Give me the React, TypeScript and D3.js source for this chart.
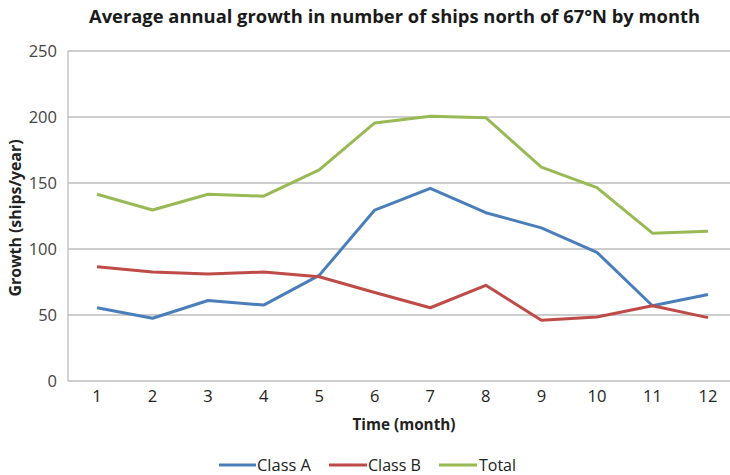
import React from "react";
import * as d3 from "d3";

const months = [1, 2, 3, 4, 5, 6, 7, 8, 9, 10, 11, 12];
const classA = [55.5, 47.5, 61, 57.5, 80, 129.5, 146, 127.5, 116, 97.5, 57, 65.5];
const classB = [86.5, 82.5, 81, 82.5, 79, 67, 55.5, 72.5, 46, 48.5, 57, 48];
const total = [141.5, 129.5, 141.5, 140, 160, 195.5, 200.5, 199.5, 162, 146.5, 112, 113.5];
const yTicks = [0, 50, 100, 150, 200, 250];

const series = [
  { name: "Class A", values: classA, color: "#4a7ebb" },
  { name: "Class B", values: classB, color: "#be4b48" },
  { name: "Total", values: total, color: "#98b954" },
];

const FONT = "'Open Sans', 'Liberation Sans', sans-serif";

export default function App() {
  const W = 730;
  const H = 475;
  const left = 68;
  const right = 730;
  const top = 51;
  const bottom = 381;

  const x = d3.scalePoint<number>().domain(months).range([97, 708]);
  const y = d3.scaleLinear().domain([0, 250]).range([bottom, top]);
  const line = d3
    .line<number>()
    .x((_, i) => x(months[i]) as number)
    .y((d) => y(d));

  // legend swatch spans and label widths
  const legendItems = [
    { x0: 219, x1: 256, tx: 257, tw: 54 },
    { x0: 329, x1: 367, tx: 368, tw: 53 },
    { x0: 439, x1: 477, tx: 479, tw: 37 },
  ];
  const legendY = 465;

  return (
    <svg
      width={W}
      height={H}
      style={{ position: "absolute", left: 0, top: 0, background: "#fff" }}
      fontFamily={FONT}
    >
      <text
        x={394.5}
        y={23}
        textAnchor="middle"
        fontSize={18.5}
        fontWeight="bold"
        fill="#1a1a1a"
        textLength={611}
        lengthAdjust="spacingAndGlyphs"
      >
        Average annual growth in number of ships north of 67°N by month
      </text>

      {yTicks.map((t) => (
        <g key={t}>
          {t > 0 && (
            <line x1={left} x2={right} y1={y(t)} y2={y(t)} stroke="#bdbdbd" strokeWidth={1.3} />
          )}
          <text
            x={57}
            y={y(t)}
            dy="0.36em"
            textAnchor="end"
            fontSize={16.5}
            fill="#444"
          >
            {t}
          </text>
        </g>
      ))}

      <line x1={left} x2={left} y1={top} y2={bottom} stroke="#bdbdbd" strokeWidth={1.3} />
      <line x1={left} x2={right} y1={bottom} y2={bottom} stroke="#bdbdbd" strokeWidth={1.3} />

      {months.map((m) => (
        <text
          key={m}
          x={x(m) as number}
          y={396}
          dy="0.36em"
          textAnchor="middle"
          fontSize={16.5}
          fill="#222"
        >
          {m}
        </text>
      ))}

      <text
        x={404}
        y={424}
        dy="0.36em"
        textAnchor="middle"
        fontSize={16.5}
        fontWeight="bold"
        fill="#222"
        textLength={103}
        lengthAdjust="spacingAndGlyphs"
      >
        Time (month)
      </text>

      <text
        transform={`translate(15,218) rotate(-90)`}
        dy="0.36em"
        textAnchor="middle"
        fontSize={16}
        fontWeight="bold"
        fill="#222"
        textLength={157}
        lengthAdjust="spacingAndGlyphs"
      >
        Growth (ships/year)
      </text>

      {series.map((s) => (
        <path
          key={s.name}
          d={line(s.values) ?? ""}
          fill="none"
          stroke={s.color}
          strokeWidth={3}
          strokeLinejoin="round"
        />
      ))}

      {series.map((s, i) => (
        <g key={s.name}>
          <line
            x1={legendItems[i].x0}
            x2={legendItems[i].x1}
            y1={legendY}
            y2={legendY}
            stroke={s.color}
            strokeWidth={3}
          />
          <text
            x={legendItems[i].tx}
            y={legendY}
            dy="0.36em"
            fontSize={16.5}
            fill="#222"
            textLength={legendItems[i].tw}
            lengthAdjust="spacingAndGlyphs"
          >
            {s.name}
          </text>
        </g>
      ))}
    </svg>
  );
}
